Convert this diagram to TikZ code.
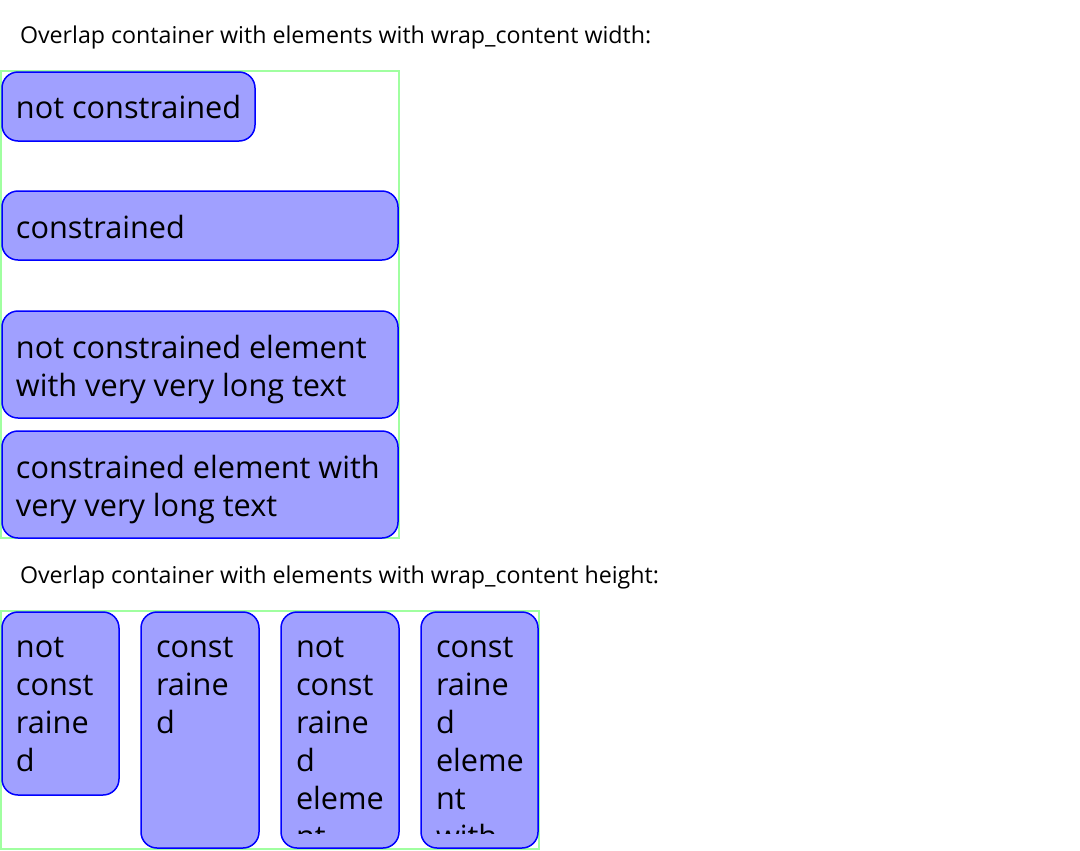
\documentclass[tikz,border=0pt]{standalone}
\usepackage{fontspec}
\setmainfont{Open Sans}
\newlength{\du}
\setlength{\du}{0.75pt}
\definecolor{panelline}{rgb}{0.627451, 1.000000, 0.627451}
\definecolor{itemline}{rgb}{0.000000, 0.000000, 1.000000}
\definecolor{itemfill}{rgb}{0.627451, 0.627451, 1.000000}
\tikzset{
  panel/.style={draw=panelline,line width=2\du},
  item/.style={draw=itemline,fill=itemfill,line width=1.5\du,rounded corners=16\du},
  itemtext/.style={anchor=base west,inner sep=0pt,outer sep=0pt,font=\fontsize{23}{28.5}\selectfont},
  heading/.style={anchor=base west,inner sep=0pt,outer sep=0pt,font=\fontsize{17.4}{20}\selectfont}
}
\begin{document}
\begin{tikzpicture}[x=1\du,y=-1\du]
\useasboundingbox (0,0) rectangle (1080,850);
% wrap_content width
\node[heading] (widthtitle) at (20,43) {Overlap container with elements with wrap\_content width:};
\draw[panel] (1,71) rectangle (399,538);
\draw[item] (2,72) rectangle (255,141);
\draw[item] (2,191) rectangle (398,260);
\draw[item] (2,311) rectangle (398,418);
\draw[item] (2,431) rectangle (398,538);
\node[itemtext] (wa) at (16,118) {not constrained};
\node[itemtext] (wb) at (16,238) {constrained};
\node[itemtext] (wc1) at (16,358) {not constrained element};
\node[itemtext] (wc2) at (16,396) {with very very long text};
\node[itemtext] (wd1) at (16,478) {constrained element with};
\node[itemtext] (wd2) at (16,516) {very very long text};
% wrap_content height
\node[heading] (heighttitle) at (20,583) {Overlap container with elements with wrap\_content height:};
\draw[panel] (1,611) rectangle (539,849);
\draw[item] (2,612) rectangle (119,795);
\draw[item] (141,612) rectangle (259,848);
\draw[item] (281,612) rectangle (399,848);
\draw[item] (421,612) rectangle (538,848);
\begin{scope}
\clip (0,600) rectangle (540,833);
\foreach \txt [count=\i from 0] in {not,const,raine,d}
  \node[itemtext] (ha\i) at (16,657+38*\i) {\txt};
\foreach \txt [count=\i from 0] in {const,raine,d}
  \node[itemtext] (hb\i) at (156,657+38*\i) {\txt};
\foreach \txt [count=\i from 0] in {not,const,raine,d,eleme,nt}
  \node[itemtext] (hc\i) at (296,657+38*\i) {\txt};
\foreach \txt [count=\i from 0] in {const,raine,d,eleme,nt,with}
  \node[itemtext] (hd\i) at (436,657+38*\i) {\txt};
\end{scope}
\end{tikzpicture}
\end{document}
